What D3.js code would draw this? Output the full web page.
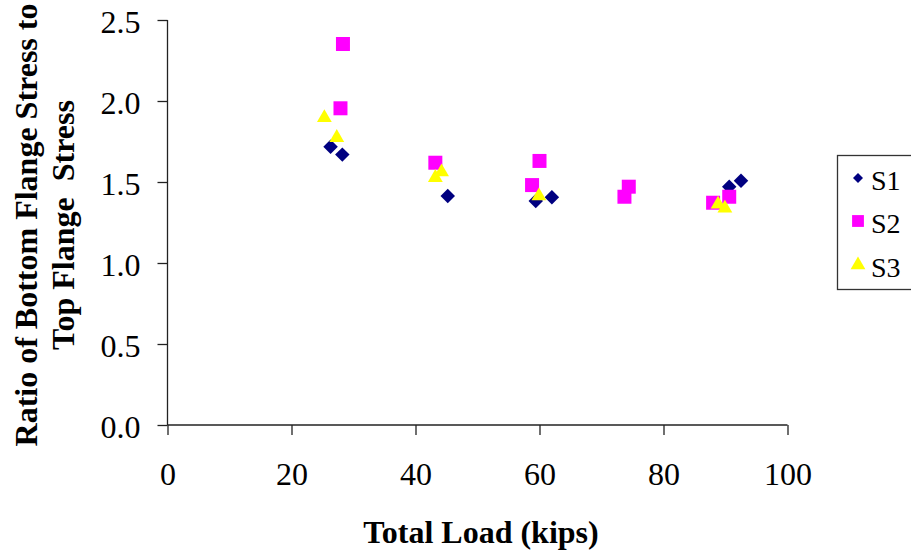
<!DOCTYPE html>
<html><head><meta charset="utf-8">
<script src="https://cdn.jsdelivr.net/npm/d3@7"></script>
<style>body{margin:0;background:#fff}svg{display:block}text{font-family:"Liberation Serif","Times New Roman",serif}</style>
</head><body><div id="chart"></div>
<script>
const s1x = [26.3, 28.2, 45.2, 59.4, 62.0, 90.6, 92.5];
const s1y = [1.718, 1.669, 1.414, 1.383, 1.406, 1.471, 1.508];
const s2x = [28.3, 27.9, 43.2, 60.0, 58.8, 74.4, 73.7, 88.0, 90.6];
const s2y = [2.352, 1.955, 1.619, 1.630, 1.481, 1.471, 1.409, 1.372, 1.409];
const s3x = [25.3, 27.3, 43.2, 44.2, 59.9, 88.8, 89.9];
const s3y = [1.903, 1.780, 1.533, 1.568, 1.420, 1.369, 1.344];
const xTicks = [0, 20, 40, 60, 80, 100];
const yTicks = [0.0, 0.5, 1.0, 1.5, 2.0, 2.5];
const seriesNames = ["S1", "S2", "S3"];

const W = 911, H = 554;
const svg = d3.select("#chart").append("svg").attr("width", W).attr("height", H);
const x = d3.scaleLinear().domain([0, 100]).range([167.5, 787.5]);
const y = d3.scaleLinear().domain([0, 2.5]).range([425, 20]);

const fills = ["#000080", "#FF00FF", "#FFFF00"];
function markerPath(i) {
  if (i === 0) return d3.symbol().type(d3.symbolSquare).size(105)();
  if (i === 1) return d3.symbol().type(d3.symbolSquare).size(196)();
  return d3.symbol().type(d3.symbolTriangle).size(95)();
}
function markerTransform(i, px, py) {
  if (i === 0) return `translate(${px},${py}) rotate(45)`;
  if (i === 2) return `translate(${px},${py+1})`;
  return `translate(${px},${py})`;
}

// axes
const xAxis = d3.axisBottom(x).tickValues(xTicks).tickSize(10).tickFormat(d3.format("d"));
const yAxis = d3.axisLeft(y).tickValues(yTicks).tickSize(10).tickFormat(d3.format(".1f"));
const gx = svg.append("g").attr("transform", "translate(0,425)").call(xAxis);
const gy = svg.append("g").attr("transform", "translate(167.5,0)").call(yAxis);
[gx, gy].forEach(g => {
  g.attr("font-family", null).attr("font-size", null);
  g.select(".domain").attr("stroke", "#222").attr("stroke-width", 1.3);
  g.selectAll(".tick line").attr("stroke", "#222").attr("stroke-width", 1.3);
  g.selectAll(".tick text").attr("font-size", 32).attr("fill", "#000");
});
gx.select(".domain").attr("d", `M${x(0)},0H${x(100)}`);
gy.select(".domain").attr("d", `M0,${y(2.5)}V${y(0)}`);
gx.selectAll(".tick text").attr("dy", null).attr("y", 60);
gy.selectAll(".tick text").attr("dy", null).attr("x", -27).attr("y", 12);

// data
const allX = [s1x, s2x, s3x], allY = [s1y, s2y, s3y];
allX.forEach((xs, i) => {
  const data = xs.map((v, j) => [v, allY[i][j]]);
  svg.append("g").selectAll("path").data(data).join("path")
    .attr("d", markerPath(i))
    .attr("transform", d => markerTransform(i, x(d[0]), y(d[1])))
    .attr("fill", fills[i]);
});

// axis titles
svg.append("text").attr("x", 481).attr("y", 543).attr("text-anchor", "middle")
  .attr("font-size", 32).attr("font-weight", "bold").text("Total Load (kips)");
const yt = svg.append("text").attr("transform", "translate(37,225) rotate(-90)")
  .attr("text-anchor", "middle").attr("font-size", 32).attr("font-weight", "bold")
  .style("white-space", "pre");
yt.append("tspan").attr("x", 0).attr("y", 0).text("Ratio of Bottom Flange Stress to");
yt.append("tspan").attr("x", 0).attr("y", 37).text("Top Flange  Stress");

// legend
svg.append("rect").attr("x", 837.5).attr("y", 155.5).attr("width", 80).attr("height", 134)
  .attr("fill", "none").attr("stroke", "#333").attr("stroke-width", 1.3);
const legY = [178, 221, 265];
seriesNames.forEach((n, i) => {
  const sz = i === 0 ? 50 : i === 1 ? 140 : 95;
  const tp = i === 2 ? d3.symbolTriangle : d3.symbolSquare;
  svg.append("path").attr("d", d3.symbol().type(tp).size(sz)())
    .attr("transform", i === 0 ? `translate(858,${legY[i]}) rotate(45)` : `translate(858,${legY[i]})`)
    .attr("fill", fills[i]);
  svg.append("text").attr("x", 871).attr("y", legY[i] + 12).attr("font-size", 28).text(n);
});
</script></body></html>
